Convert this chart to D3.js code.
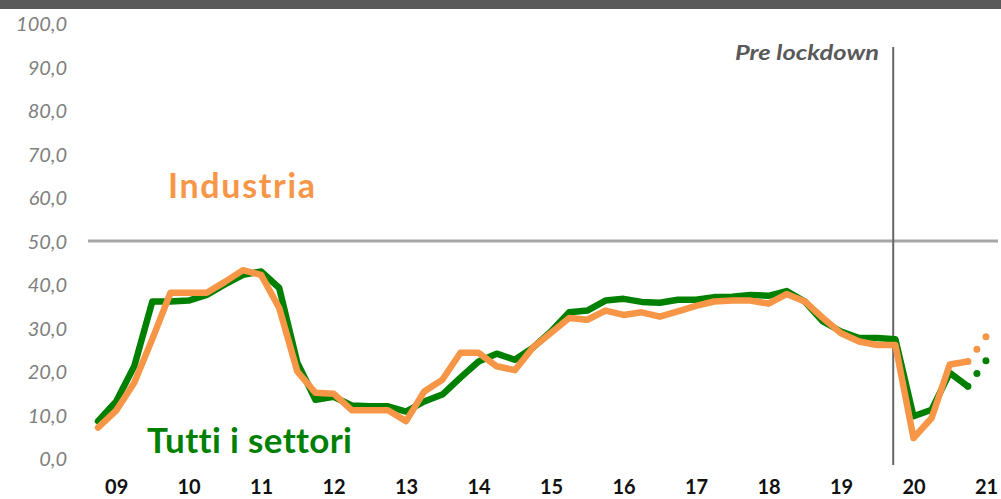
<!DOCTYPE html>
<html>
<head>
<meta charset="utf-8">
<script src="https://cdn.jsdelivr.net/npm/d3@7"></script>
<style>
  html, body { margin: 0; padding: 0; background: #fff; }
  svg { display: block; }
  text { font-family: "Century Gothic", Lato, "Noto Sans", sans-serif; font-variant-ligatures: none; font-feature-settings: "liga" 0, "clig" 0; }
</style>
</head>
<body>
<svg id="chart" width="1001" height="499"></svg>
<script>
// ---- data (quarterly, Q1 2009 .. Q1 2021) ----
const yearLabels = ["09","10","11","12","13","14","15","16","17","18","19","20","21"];
const yTicks = [0,10,20,30,40,50,60,70,80,90,100];
const tuttiSettori = [8.6,13.1,21.2,36.1,36.1,36.3,37.6,40.0,42.2,43.0,
  39.2,22.0,13.5,14.2,12.2,12.0,12.0,10.8,13.1,14.7,
  18.6,22.3,24.1,22.7,25.5,29.2,33.6,34.0,36.3,36.7,
  36.0,35.8,36.5,36.5,37.1,37.2,37.6,37.4,38.5,36.1,
  31.5,29.2,27.7,27.7,27.4,9.7,11.2,19.7,16.6];
const industria = [7.1,11.0,17.4,27.5,38.1,38.1,38.1,40.6,43.3,42.2,
  34.6,20.0,15.1,14.9,11.1,11.1,11.1,8.6,15.4,18.1,
  24.3,24.3,21.2,20.3,25.5,28.9,32.3,31.9,34.0,33.0,
  33.6,32.6,33.8,35.1,36.1,36.3,36.3,35.6,37.8,36.1,
  32.3,28.8,26.9,26.1,26.1,4.7,9.3,21.6,22.3];
// forecast segment (index 48 -> 49)
const tuttiForecast = [16.6, 22.5];
const industriaForecast = [22.3, 28.0];
const referenceLine = 50;
const preLockdownIndex = 43.88;

const GREEN = "#008000", ORANGE = "#f79646";

const svg = d3.select("#chart");
const x = d3.scaleLinear().domain([0, 49]).range([98, 986]);
const y = d3.scaleLinear().domain([0, 100]).range([458.5, 23.5]);

// top dark band
svg.append("rect").attr("x",0).attr("y",0).attr("width",1001).attr("height",9).attr("fill","#595959");

// y axis labels
const yAxis = d3.axisLeft(y).tickValues(yTicks).tickSize(0).tickPadding(0)
  .tickFormat(d => d3.format(".1f")(d).replace(".", ","));
const yg = svg.append("g").attr("transform","translate(67,0)").call(yAxis);
yg.select(".domain").remove();
yg.selectAll("text").attr("font-size",20).attr("font-style","italic")
  .attr("fill","#808080").attr("font-family",'"Century Gothic", Lato, sans-serif').attr("dy","0.35em");

// 50 reference line
svg.append("line").attr("x1",88).attr("x2",998).attr("y1",y(referenceLine)).attr("y2",y(referenceLine))
  .attr("stroke","#a6a6a6").attr("stroke-width",3);

// x axis labels
const xAxis = d3.axisBottom(x).tickValues(yearLabels.map((d,i)=>i*4+1)).tickSize(0).tickPadding(0)
  .tickFormat((d,i)=>yearLabels[i]);
const xg = svg.append("g").attr("transform","translate(0,480)").call(xAxis);
xg.select(".domain").remove();
xg.selectAll("text").attr("font-size",20).attr("font-weight","bold").attr("fill","#111")
  .attr("font-family",'"Century Gothic", Lato, sans-serif').attr("dy","0.71em");

// pre lockdown vertical line
svg.append("line").attr("x1",x(preLockdownIndex)).attr("x2",x(preLockdownIndex))
  .attr("y1",47).attr("y2",465).attr("stroke","#666").attr("stroke-width",2);
svg.append("text").attr("x",735).attr("y",60)
  .attr("font-size",21).attr("font-weight","bold").attr("font-style","italic").attr("fill","#595959")
  .attr("textLength",144).attr("lengthAdjust","spacingAndGlyphs")
  .text("Pre lockdown");

const line = d3.line().x((d,i)=>x(i)).y(d=>y(d));
svg.append("path").datum(tuttiSettori).attr("d",line).attr("fill","none")
  .attr("stroke",GREEN).attr("stroke-width",6.5).attr("stroke-linejoin","round").attr("stroke-linecap","round");
svg.append("path").datum(industria).attr("d",line).attr("fill","none")
  .attr("stroke",ORANGE).attr("stroke-width",6.5).attr("stroke-linejoin","round").attr("stroke-linecap","round");

// forecast dotted
const fline = d3.line().x((d,i)=>x(48+i)).y(d=>y(d));
[[tuttiForecast,GREEN],[industriaForecast,ORANGE]].forEach(([data,col])=>{
  const p = svg.append("path").datum(data).attr("d",fline).attr("fill","none")
    .attr("stroke",col).attr("stroke-width",7).attr("stroke-linecap","round");
  const L = p.node().getTotalLength();
  p.attr("stroke-dasharray",`0 ${L/2 - 0.05}`);
});

// series labels
svg.append("text").attr("x",168).attr("y",198).attr("font-size",34).attr("font-weight","bold")
  .attr("fill",ORANGE).attr("textLength",147).attr("lengthAdjust","spacing").text("Industria");
svg.append("text").attr("x",147).attr("y",453).attr("font-size",35).attr("font-weight","bold")
  .attr("fill",GREEN).attr("textLength",205).attr("lengthAdjust","spacing").text("Tutti i settori");
</script>
</body>
</html>
